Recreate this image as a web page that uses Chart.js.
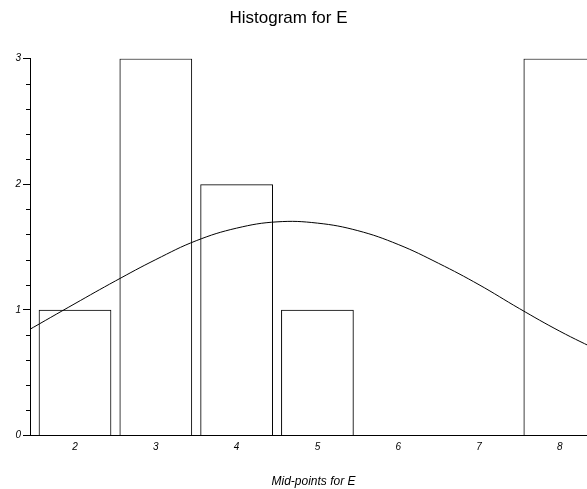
<!DOCTYPE html>
<html>
<head>
<meta charset="utf-8">
<title>Histogram for E</title>
<script src="https://cdn.jsdelivr.net/npm/chart.js@4"></script>
<style>
  body { margin: 0; background: #fff; overflow: hidden; }
  /* a bit wider than the window: the plot runs past the right edge, as in the original */
  #wrap { width: 597px; height: 489px; }
</style>
</head>
<body>
<div id="wrap"><canvas id="histChart"></canvas></div>
<script>
// histogram bins (mid-points) and counts
const midPoints = [2, 3, 4, 5, 6, 7, 8];
const counts = [1, 3, 2, 1, 0, 0, 3];

// fitted curve
const curveX = [1.4, 2.0, 2.5, 3.0, 3.5, 4.0, 4.5, 5.0, 5.5, 6.0, 6.5, 7.0, 7.5, 8.0, 8.5];
const curveY = [0.83, 1.05, 1.23, 1.40, 1.55, 1.65, 1.70, 1.69, 1.63, 1.52, 1.37, 1.20, 1.01, 0.83, 0.67];

const yTicks = [0, 1, 2, 3];

const isMajor = (v) => Math.abs(v - Math.round(v)) < 1e-6;

// short minor tick marks on the y axis
const minorTicks = {
  id: "minorTicks",
  afterDraw(chart) {
    const y = chart.scales.y;
    const ctx = chart.ctx;
    ctx.save();
    ctx.strokeStyle = "#000";
    ctx.lineWidth = 1;
    ctx.beginPath();
    y.ticks.forEach((t) => {
      if (isMajor(t.value)) return;
      const py = Math.round(y.getPixelForValue(t.value)) + 0.5;
      ctx.moveTo(y.right - 4, py);
      ctx.lineTo(y.right, py);
    });
    ctx.stroke();
    ctx.restore();
  },
};

new Chart(document.getElementById("histChart"), {
  type: "bar",
  data: {
    datasets: [
      {
        type: "line",
        data: curveX.map((x, i) => ({ x: x, y: curveY[i] })),
        borderColor: "#000",
        borderWidth: 1,
        pointRadius: 0,
        tension: 0.4,
        fill: false,
      },
      {
        type: "bar",
        data: midPoints.map((x, i) => ({ x: x, y: counts[i] })),
        backgroundColor: "rgba(255,255,255,0)",
        borderColor: "#000",
        borderWidth: 1,
        borderSkipped: "start",
        barPercentage: 0.9,
        categoryPercentage: 1,
      },
    ],
  },
  options: {
    responsive: true,
    maintainAspectRatio: false,
    animation: false,
    layout: { padding: { left: -20, right: 0, top: 0, bottom: 0 } },
    plugins: {
      legend: { display: false },
      tooltip: { enabled: false },
      title: {
        display: true,
        text: "Histogram for E",
        color: "#000",
        font: { family: "Liberation Sans", size: 17, weight: "normal" },
        padding: { top: 8, bottom: 30 },
      },
    },
    scales: {
      x: {
        type: "linear",
        offset: false,
        min: 1.443,
        max: 8.46,
        afterBuildTicks: (scale) => {
          scale.ticks = midPoints.map((v) => ({ value: v }));
        },
        grid: { drawOnChartArea: false, drawTicks: false },
        border: { display: true, color: "#000", width: 1 },
        ticks: {
          color: "#000",
          padding: 6,
          maxRotation: 0,
          font: { family: "Liberation Sans", size: 10, style: "italic" },
        },
        title: {
          display: true,
          text: "Mid-points for E",
          color: "#000",
          font: { family: "Liberation Sans", size: 12, style: "italic" },
          padding: { top: 15, bottom: 0 },
        },
      },
      y: {
        min: 0,
        max: 3,
        afterFit: (scale) => {
          scale.width = 50;
        },
        ticks: {
          stepSize: 0.2,
          color: "#000",
          padding: 2,
          font: { family: "Liberation Sans", size: 10, style: "italic" },
          callback: (v) => (yTicks.includes(Math.round(v)) && isMajor(v) ? Math.round(v) : ""),
        },
        grid: {
          drawOnChartArea: false,
          drawTicks: true,
          tickLength: 7,
          tickColor: (c) => (c.tick && isMajor(c.tick.value) ? "#000" : "rgba(0,0,0,0)"),
        },
        border: { display: true, color: "#000", width: 1 },
      },
    },
  },
  plugins: [minorTicks],
});
</script>
</body>
</html>
